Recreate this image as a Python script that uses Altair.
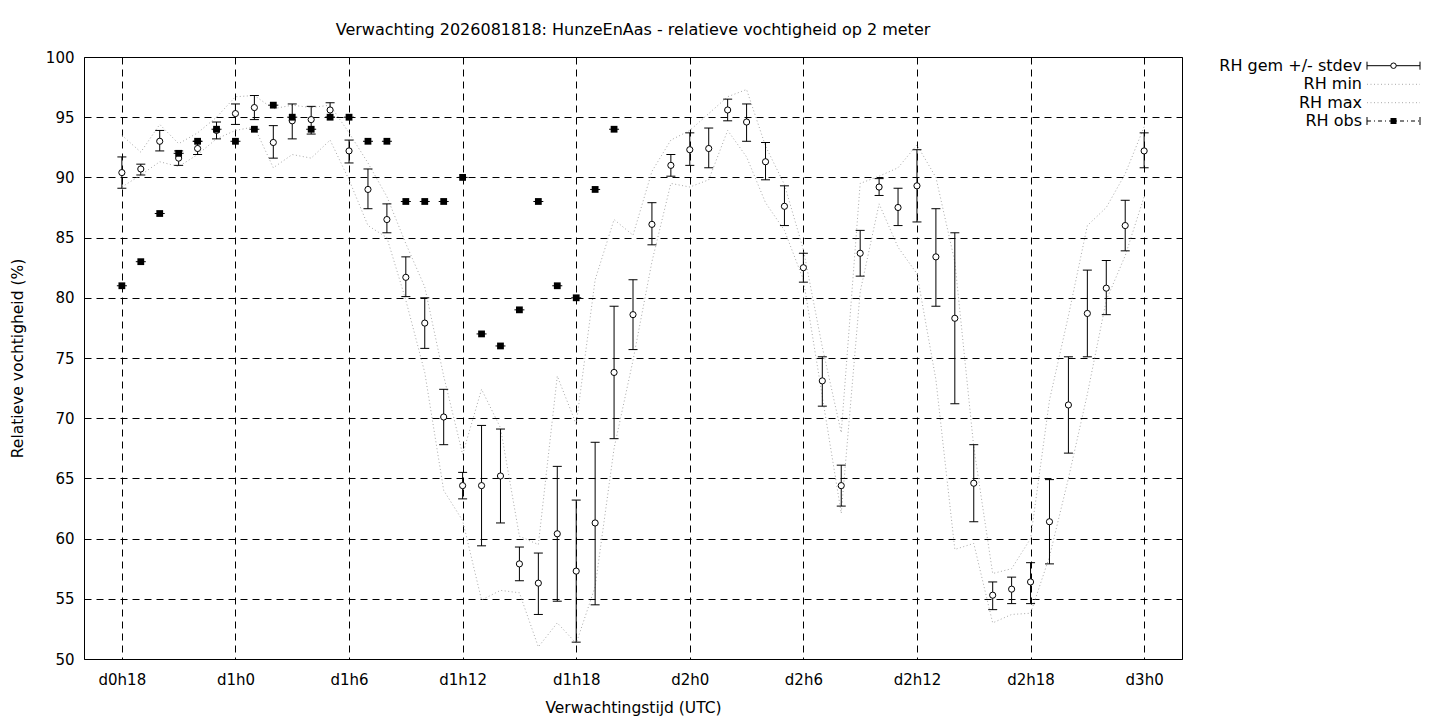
import altair as alt
import pandas as pd

FONT = "DejaVu Sans"
FS_LAB = 15
FS_TTL = 15.5
FS_TOP = 16
FS_LEG = 16

# ---------------- data ----------------
hours = list(range(18, 73))
rh_mean = [90.4, 90.7, 93.0, 91.6, 92.4, 93.9, 95.3, 95.8, 92.9, 94.7, 94.8, 95.6,
           92.2, 89.0, 86.5, 81.7, 77.9, 70.1, 64.4, 64.4, 65.2, 57.9, 56.3, 60.4,
           57.3, 61.3, 73.8, 78.6, 86.1, 91.0, 92.3, 92.4, 95.6, 94.6, 91.3, 87.6,
           82.5, 73.1, 64.4, 83.7, 89.2, 87.5, 89.3, 83.4, 78.3, 64.6, 55.3, 55.8,
           56.4, 61.4, 71.1, 78.7, 80.8, 86.0, 92.2]
rh_hi = [91.7, 91.1, 93.9, 92.2, 93.0, 94.6, 96.1, 96.8, 94.3, 96.1, 95.9, 96.2,
         93.1, 90.7, 87.8, 83.4, 80.0, 72.4, 65.5, 69.4, 69.1, 59.3, 58.8, 66.0,
         63.2, 68.0, 79.3, 81.5, 87.9, 91.9, 93.7, 94.1, 96.5, 96.1, 92.9, 89.3,
         83.7, 75.1, 66.1, 85.6, 89.9, 89.1, 92.3, 87.4, 85.4, 67.8, 56.4, 56.8,
         58.0, 64.9, 75.1, 82.3, 83.1, 88.1, 93.7]
rh_lo = [89.1, 90.2, 92.2, 91.0, 91.9, 93.2, 94.4, 94.8, 91.6, 93.2, 93.6, 95.0,
         91.2, 87.4, 85.4, 80.1, 75.8, 67.8, 63.3, 59.4, 61.3, 56.5, 53.7, 54.8,
         51.4, 54.5, 68.3, 75.7, 84.4, 90.1, 91.0, 90.8, 94.7, 93.0, 89.8, 86.0,
         81.3, 71.0, 62.7, 81.8, 88.5, 86.0, 86.3, 79.3, 71.2, 61.4, 54.1, 54.6,
         54.6, 57.9, 67.1, 75.1, 78.6, 83.9, 90.8]
rh_min = [89.2, 90.2, 91.3, 90.9, 91.9, 93.2, 93.9, 94.2, 90.8, 91.9, 91.6, 93.1,
          89.8, 86.0, 85.0, 79.8, 73.8, 64.0, 61.5, 54.9, 55.7, 55.5, 51.0, 53.0,
          51.3, 56.0, 67.5, 74.8, 83.0, 89.5, 89.2, 89.8, 93.9, 91.7, 87.9, 85.6,
          81.5, 71.8, 62.1, 80.5, 87.8, 84.2, 82.0, 73.2, 59.1, 59.6, 53.0, 53.7,
          53.8, 58.5, 65.0, 72.0, 79.8, 83.5, 88.4]
rh_max = [93.5, 92.1, 94.4, 92.8, 93.7, 95.0, 96.7, 96.8, 95.7, 96.0, 95.8, 96.0,
          93.7, 91.2, 88.4, 84.5, 80.9, 73.5, 67.0, 72.4, 69.2, 60.2, 59.5, 73.5,
          69.5, 81.5, 86.5, 85.2, 90.5, 93.1, 93.9, 95.3, 96.7, 97.3, 92.6, 89.4,
          84.0, 75.9, 68.8, 89.5, 90.1, 90.8, 92.7, 90.0, 83.0, 67.6, 57.1, 57.5,
          60.0, 71.5, 78.5, 86.0, 87.5, 90.3, 94.2]
obs_hours = list(range(18, 45))
rh_obs = [81, 83, 87, 92, 93, 94, 93, 94, 96, 95, 94, 95, 95, 93, 93, 88, 88, 88,
          90, 77, 76, 79, 88, 81, 80, 89, 94]
x_ticks = [18, 24, 30, 36, 42, 48, 54, 60, 66, 72]
y_ticks = [50, 55, 60, 65, 70, 75, 80, 85, 90, 95, 100]
legend_labels = ["RH gem +/- stdev", "RH min", "RH max", "RH obs"]
title_text = "Verwachting 2026081818: HunzeEnAas - relatieve vochtigheid op 2 meter"

fc = pd.DataFrame({"hour": hours, "mean": rh_mean, "hi": rh_hi, "lo": rh_lo,
                   "mn": rh_min, "mx": rh_max})
ob = pd.DataFrame({"hour": obs_hours, "obs": rh_obs})

W, H = 1098, 602

xscale = alt.Scale(domain=[16, 74], nice=False, zero=False)
yscale = alt.Scale(domain=[50, 100], nice=False, zero=False)

xaxis = alt.Axis(values=x_ticks,
                 labelExpr="'d' + floor(datum.value / 24) + 'h' + (datum.value % 24)",
                 title="Verwachtingstijd (UTC)", grid=True, gridDash=[7, 5],
                 gridColor="black", gridOpacity=1, gridWidth=1, ticks=False, tickSize=0,
                 domain=False, labelPadding=13, titlePadding=13, labelFlush=False,
                 labelFont=FONT, labelFontSize=FS_LAB, titleFont=FONT,
                 titleFontSize=FS_TTL, titleFontWeight="normal",
                 labelColor="black", titleColor="black")
yaxis = alt.Axis(values=y_ticks, title="Relatieve vochtigheid (%)", grid=True,
                 gridDash=[7, 5], gridColor="black", gridOpacity=1, gridWidth=1,
                 ticks=False, tickSize=0, domain=False, labelPadding=10,
                 titlePadding=20, labelFlush=False,
                 labelFont=FONT, labelFontSize=FS_LAB, titleFont=FONT,
                 titleFontSize=FS_TTL, titleFontWeight="normal",
                 labelColor="black", titleColor="black")

base = alt.Chart(fc)

gray = "#a8a8a8"
dots = [1, 2.5]

min_line = base.mark_line(color=gray, strokeWidth=1, strokeDash=dots).encode(
    x=alt.X("hour:Q", scale=xscale, axis=xaxis),
    y=alt.Y("mn:Q", scale=yscale, axis=yaxis))
max_line = base.mark_line(color=gray, strokeWidth=1, strokeDash=dots).encode(
    x=alt.X("hour:Q", scale=xscale), y=alt.Y("mx:Q", scale=yscale))

err_rule = base.mark_rule(color="black", strokeWidth=1).encode(
    x=alt.X("hour:Q", scale=xscale), y=alt.Y("lo:Q", scale=yscale), y2="hi:Q")
cap_hi = base.mark_tick(color="black", orient="horizontal", size=9, thickness=1,
                        opacity=1).encode(
    x=alt.X("hour:Q", scale=xscale), y=alt.Y("hi:Q", scale=yscale))
cap_lo = base.mark_tick(color="black", orient="horizontal", size=9, thickness=1,
                        opacity=1).encode(
    x=alt.X("hour:Q", scale=xscale), y=alt.Y("lo:Q", scale=yscale))
mean_pts = base.mark_point(shape="circle", size=38, filled=True, fill="white",
                           stroke="black", strokeWidth=1, opacity=1).encode(
    x=alt.X("hour:Q", scale=xscale), y=alt.Y("mean:Q", scale=yscale))

obs_cap = alt.Chart(ob).mark_tick(color="black", orient="horizontal", size=10,
                                  thickness=1, opacity=1).encode(
    x=alt.X("hour:Q", scale=xscale), y=alt.Y("obs:Q", scale=yscale))
obs_pts = alt.Chart(ob).mark_point(shape="square", size=46, filled=True,
                                   color="black", opacity=1).encode(
    x=alt.X("hour:Q", scale=xscale), y=alt.Y("obs:Q", scale=yscale))

# ---------------- legend (gnuplot style, top right outside plot) ----------------
one = pd.DataFrame({"k": [0]})
LX_T = 1278   # right edge of legend text (relative to plot origin)
LX0, LX1 = 1283, 1336
LXC = (LX0 + LX1) / 2
rows = [8.7, 27.3, 45.7, 64.0]

legend_layers = []
for lab, yy in zip(legend_labels, rows):
    legend_layers.append(
        alt.Chart(pd.DataFrame({"t": [lab]})).mark_text(
            align="right", baseline="middle", font=FONT, fontSize=FS_LEG,
            color="black"
        ).encode(x=alt.value(LX_T), y=alt.value(yy), text="t:N"))

def hline(yy, **kw):
    return alt.Chart(one).mark_rule(**kw).encode(
        x=alt.value(LX0), x2=alt.value(LX1), y=alt.value(yy))

def vcap(xx, yy):
    return alt.Chart(one).mark_rule(color="black", strokeWidth=1).encode(
        x=alt.value(xx), y=alt.value(yy - 4), y2=alt.value(yy + 4))

legend_layers += [
    hline(rows[0], color="black", strokeWidth=1),
    vcap(LX0, rows[0]), vcap(LX1, rows[0]),
    alt.Chart(one).mark_point(shape="circle", size=30, filled=True, fill="white",
                              stroke="black", strokeWidth=1, opacity=1).encode(
        x=alt.value(LXC), y=alt.value(rows[0])),
    hline(rows[1], color=gray, strokeWidth=1, strokeDash=dots),
    hline(rows[2], color=gray, strokeWidth=1, strokeDash=dots),
    hline(rows[3], color="black", strokeWidth=1, strokeDash=[4, 3, 1, 3]),
    vcap(LX0, rows[3]), vcap(LX1, rows[3]),
    alt.Chart(one).mark_point(shape="square", size=36, filled=True, color="black",
                              opacity=1).encode(
        x=alt.value(LXC), y=alt.value(rows[3])),
]

chart = alt.layer(
    min_line, max_line, err_rule, cap_hi, cap_lo, mean_pts, obs_cap, obs_pts,
    *legend_layers
).properties(
    width=W, height=H,
    title=alt.TitleParams(text=title_text, font=FONT, fontSize=FS_TOP,
                          fontWeight="normal", color="black", anchor="middle",
                          offset=12),
    autosize=alt.AutoSizeParams(type="none"),
    padding={"left": 76, "top": 49, "right": 250, "bottom": 64},
    background="white",
).configure_view(
    stroke="black", strokeWidth=1
)

chart.save("out.html", embed_options={"renderer": "svg", "actions": False})
